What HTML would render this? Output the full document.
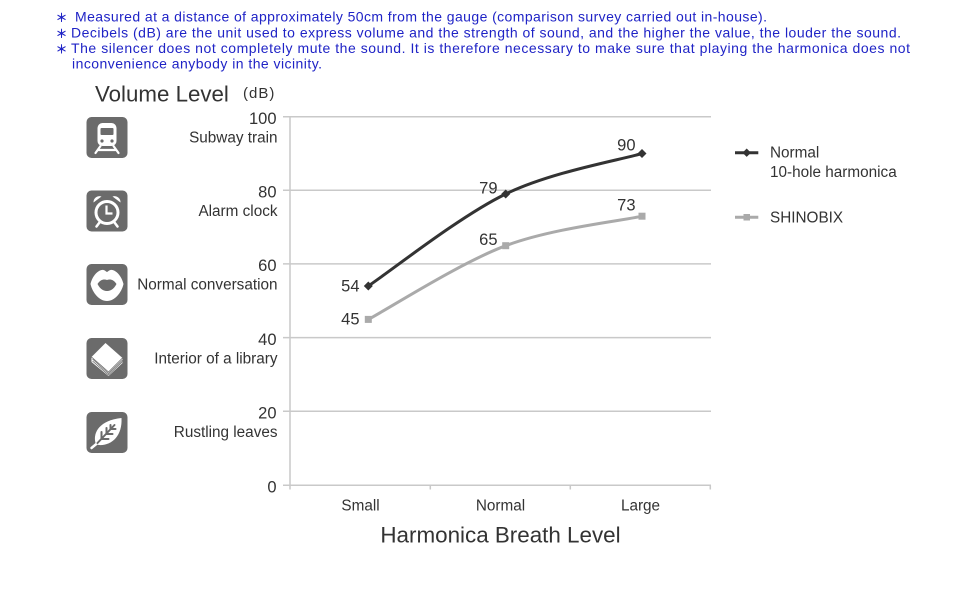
<!DOCTYPE html>
<html>
<head>
<meta charset="utf-8">
<style>
  html,body{margin:0;padding:0;background:#fff;}
  svg{display:block;}
  text{font-family:"Liberation Sans","Noto Sans CJK JP",Arial,sans-serif;}
</style>
</head>
<body>
<svg width="960" height="600" viewBox="0 0 960 600" xmlns="http://www.w3.org/2000/svg">
  <rect width="960" height="600" fill="#fff"/>

  <!-- Header notes -->
  <g fill="#1f23c6" font-size="14">
    <text x="61.5" y="22" text-anchor="middle" font-size="12" font-weight="bold" font-family="Noto Sans CJK JP, sans-serif">＊</text>
    <text x="75" y="21.5" textLength="692" lengthAdjust="spacing">Measured at a distance of approximately 50cm from the gauge (comparison survey carried out in-house).</text>
    <text x="61.5" y="37.8" text-anchor="middle" font-size="12" font-weight="bold" font-family="Noto Sans CJK JP, sans-serif">＊</text>
    <text x="71" y="37.3" textLength="830" lengthAdjust="spacing">Decibels (dB) are the unit used to express volume and the strength of sound, and the higher the value, the louder the sound.</text>
    <text x="61.5" y="53.5" text-anchor="middle" font-size="12" font-weight="bold" font-family="Noto Sans CJK JP, sans-serif">＊</text>
    <text x="71" y="53" textLength="839" lengthAdjust="spacing">The silencer does not completely mute the sound. It is therefore necessary to make sure that playing the harmonica does not</text>
    <text x="72" y="68.5" textLength="250" lengthAdjust="spacing">inconvenience anybody in the vicinity.</text>
  </g>

  <!-- Y axis title -->
  <text x="95" y="101.5" font-size="22.3" fill="#333">Volume Level</text>
  <text x="243" y="98" font-size="15" fill="#333" letter-spacing="1">(dB)</text>

  <!-- Gridlines -->
  <g stroke="#c9c9c9" stroke-width="1.5">
    <line x1="283" y1="116.7" x2="711" y2="116.7"/>
    <line x1="283" y1="190.3" x2="711" y2="190.3"/>
    <line x1="283" y1="263.9" x2="711" y2="263.9"/>
    <line x1="283" y1="337.6" x2="711" y2="337.6"/>
    <line x1="283" y1="411.2" x2="711" y2="411.2"/>
    <line x1="283" y1="485.3" x2="711" y2="485.3"/>
    <line x1="290" y1="116.7" x2="290" y2="489.5"/>
    <line x1="430.3" y1="485.3" x2="430.3" y2="489.5"/>
    <line x1="570.3" y1="485.3" x2="570.3" y2="489.5"/>
    <line x1="710.3" y1="485.3" x2="710.3" y2="489.5"/>
  </g>

  <!-- Y tick labels -->
  <g font-size="16.5" fill="#333" text-anchor="end">
    <text x="276.5" y="124">100</text>
    <text x="276.5" y="197.6">80</text>
    <text x="276.5" y="271.2">60</text>
    <text x="276.5" y="344.9">40</text>
    <text x="276.5" y="418.5">20</text>
    <text x="276.5" y="492.6">0</text>
  </g>
  <g font-size="15.3" fill="#333" text-anchor="end">
    <text x="277.5" y="142.3">Subway train</text>
    <text x="277.5" y="216">Alarm clock</text>
    <text x="277.5" y="289.7">Normal conversation</text>
    <text x="277.5" y="363.4">Interior of a library</text>
    <text x="277.5" y="437">Rustling leaves</text>
  </g>

  <!-- Icons -->
  <!-- Train -->
  <g transform="translate(86.5,117)">
    <rect x="0" y="0" width="41" height="41" rx="5" fill="#6b6b6b"/>
    <rect x="11" y="6" width="19" height="23" rx="5" fill="#fff"/>
    <rect x="14" y="11" width="13" height="7" rx="1" fill="#6b6b6b"/>
    <circle cx="15.5" cy="24" r="1.6" fill="#6b6b6b"/>
    <circle cx="25.5" cy="24" r="1.6" fill="#6b6b6b"/>
    <g stroke="#fff" stroke-width="2.2" stroke-linecap="round">
      <line x1="14" y1="29" x2="9" y2="36"/>
      <line x1="27" y1="29" x2="32" y2="36"/>
      <line x1="12" y1="33" x2="29" y2="33"/>
    </g>
  </g>
  <!-- Clock -->
  <g transform="translate(86.5,190.5)">
    <rect x="0" y="0" width="41" height="41" rx="5" fill="#6b6b6b"/>
    <path d="M7 12 A6 6 0 0 1 15 6 Z" fill="#fff"/>
    <path d="M34 12 A6 6 0 0 0 26 6 Z" fill="#fff"/>
    <circle cx="20.5" cy="22" r="11" fill="none" stroke="#fff" stroke-width="3"/>
    <path d="M20 15 V23 H26" fill="none" stroke="#fff" stroke-width="2.2"/>
    <g stroke="#fff" stroke-width="2.5" stroke-linecap="round">
      <line x1="13" y1="32" x2="10" y2="36"/>
      <line x1="28" y1="32" x2="31" y2="36"/>
    </g>
  </g>
  <!-- Lips -->
  <g transform="translate(86.5,264)">
    <rect x="0" y="0" width="41" height="41" rx="5" fill="#6b6b6b"/>
    <path d="M4 20 C6 11 13 5 17 6 C19 6.5 20 8 20.5 8 C21 8 22 6.5 24 6 C28 5 35 11 37 20 C35 29 28 37 20.5 37 C13 37 6 29 4 20 Z" fill="#fff"/>
    <path d="M11 20 C14 15 18 15 20.5 16 C23 15 27 15 30 20 C27 26 23 27 20.5 27 C18 27 14 26 11 20 Z" fill="#6b6b6b"/>
  </g>
  <!-- Book -->
  <g transform="translate(86.5,338)">
    <rect x="0" y="0" width="41" height="41" rx="5" fill="#6b6b6b"/>
    <path d="M5 19 L19 5 L36 20 L22 34 Z" fill="#fff"/>
    <path d="M5 19 L5 24 L22 38 L36 25 L36 20 L22 34 Z" fill="#fff"/>
    <g stroke="#6b6b6b" stroke-width="0.8" fill="none">
      <path d="M6 21 L22 35.5 L36 22"/>
      <path d="M6 23 L22 37 L36 23.5"/>
      <path d="M5 19 L22 34 L36 20"/>
    </g>
  </g>
  <!-- Leaf -->
  <g transform="translate(86.5,412)">
    <rect x="0" y="0" width="41" height="41" rx="5" fill="#6b6b6b"/>
    <path d="M9 31 C6 20 14 8 35 6 C36 24 25 34 12 33 Z" fill="#fff"/>
    <path d="M5 36 L11 31" stroke="#fff" stroke-width="2.5" stroke-linecap="round"/>
    <g stroke="#6b6b6b" stroke-width="2" stroke-linecap="round" fill="none">
      <path d="M11 31 L28 13"/>
      <path d="M15 27 L15 20"/>
      <path d="M15 27 L22 27"/>
      <path d="M20 22 L20 16"/>
      <path d="M20 22 L26 22"/>
      <path d="M24 17 L24 13"/>
      <path d="M24 17 L29 17"/>
    </g>
  </g>

  <!-- Series: SHINOBIX -->
  <path d="M368.3 319.4 C391.2 307.1 460.1 262.9 505.7 245.7 C551.3 228.5 619.3 221.1 642 216.2" fill="none" stroke="#aaaaaa" stroke-width="3"/>
  <g fill="#aaaaaa">
    <rect x="364.8" y="315.9" width="7" height="7"/>
    <rect x="502.2" y="242.2" width="7" height="7"/>
    <rect x="638.5" y="212.7" width="7" height="7"/>
  </g>

  <!-- Series: Normal -->
  <path d="M368.3 286 C391.2 270.7 460.1 216.1 505.7 194 C551.3 171.9 619.3 160.2 642 153.5" fill="none" stroke="#333333" stroke-width="3"/>
  <g fill="#333333">
    <path d="M368.3 281.5 L372.8 286 L368.3 290.5 L363.8 286 Z"/>
    <path d="M505.7 189.5 L510.2 194 L505.7 198.5 L501.2 194 Z"/>
    <path d="M642 149 L646.5 153.5 L642 158 L637.5 153.5 Z"/>
  </g>

  <!-- Data labels -->
  <g font-size="16.5" fill="#333" text-anchor="end">
    <text x="359.5" y="291.7">54</text>
    <text x="359.5" y="324.3">45</text>
    <text x="497.5" y="193.3">79</text>
    <text x="497.5" y="245">65</text>
    <text x="635.5" y="150.7">90</text>
    <text x="635.5" y="210.7">73</text>
  </g>

  <!-- X category labels -->
  <g font-size="15.3" fill="#333" text-anchor="middle">
    <text x="360.5" y="510.7">Small</text>
    <text x="500.5" y="510.7">Normal</text>
    <text x="640.5" y="510.7">Large</text>
  </g>
  <text x="500.5" y="542.7" font-size="22.4" fill="#333" text-anchor="middle">Harmonica Breath Level</text>

  <!-- Legend -->
  <line x1="735" y1="152.7" x2="758.3" y2="152.7" stroke="#333" stroke-width="3"/>
  <path d="M746.7 148.5 L750.9 152.7 L746.7 156.9 L742.5 152.7 Z" fill="#333"/>
  <text x="770" y="157.5" font-size="15.3" fill="#333">Normal</text>
  <text x="770" y="177" font-size="15.3" fill="#333">10-hole harmonica</text>
  <line x1="735" y1="217.3" x2="758.3" y2="217.3" stroke="#aaa" stroke-width="3"/>
  <rect x="743.5" y="214" width="6.5" height="6.5" fill="#aaa"/>
  <text x="770" y="222.3" font-size="15.3" fill="#333">SHINOBIX</text>
</svg>
</body>
</html>
